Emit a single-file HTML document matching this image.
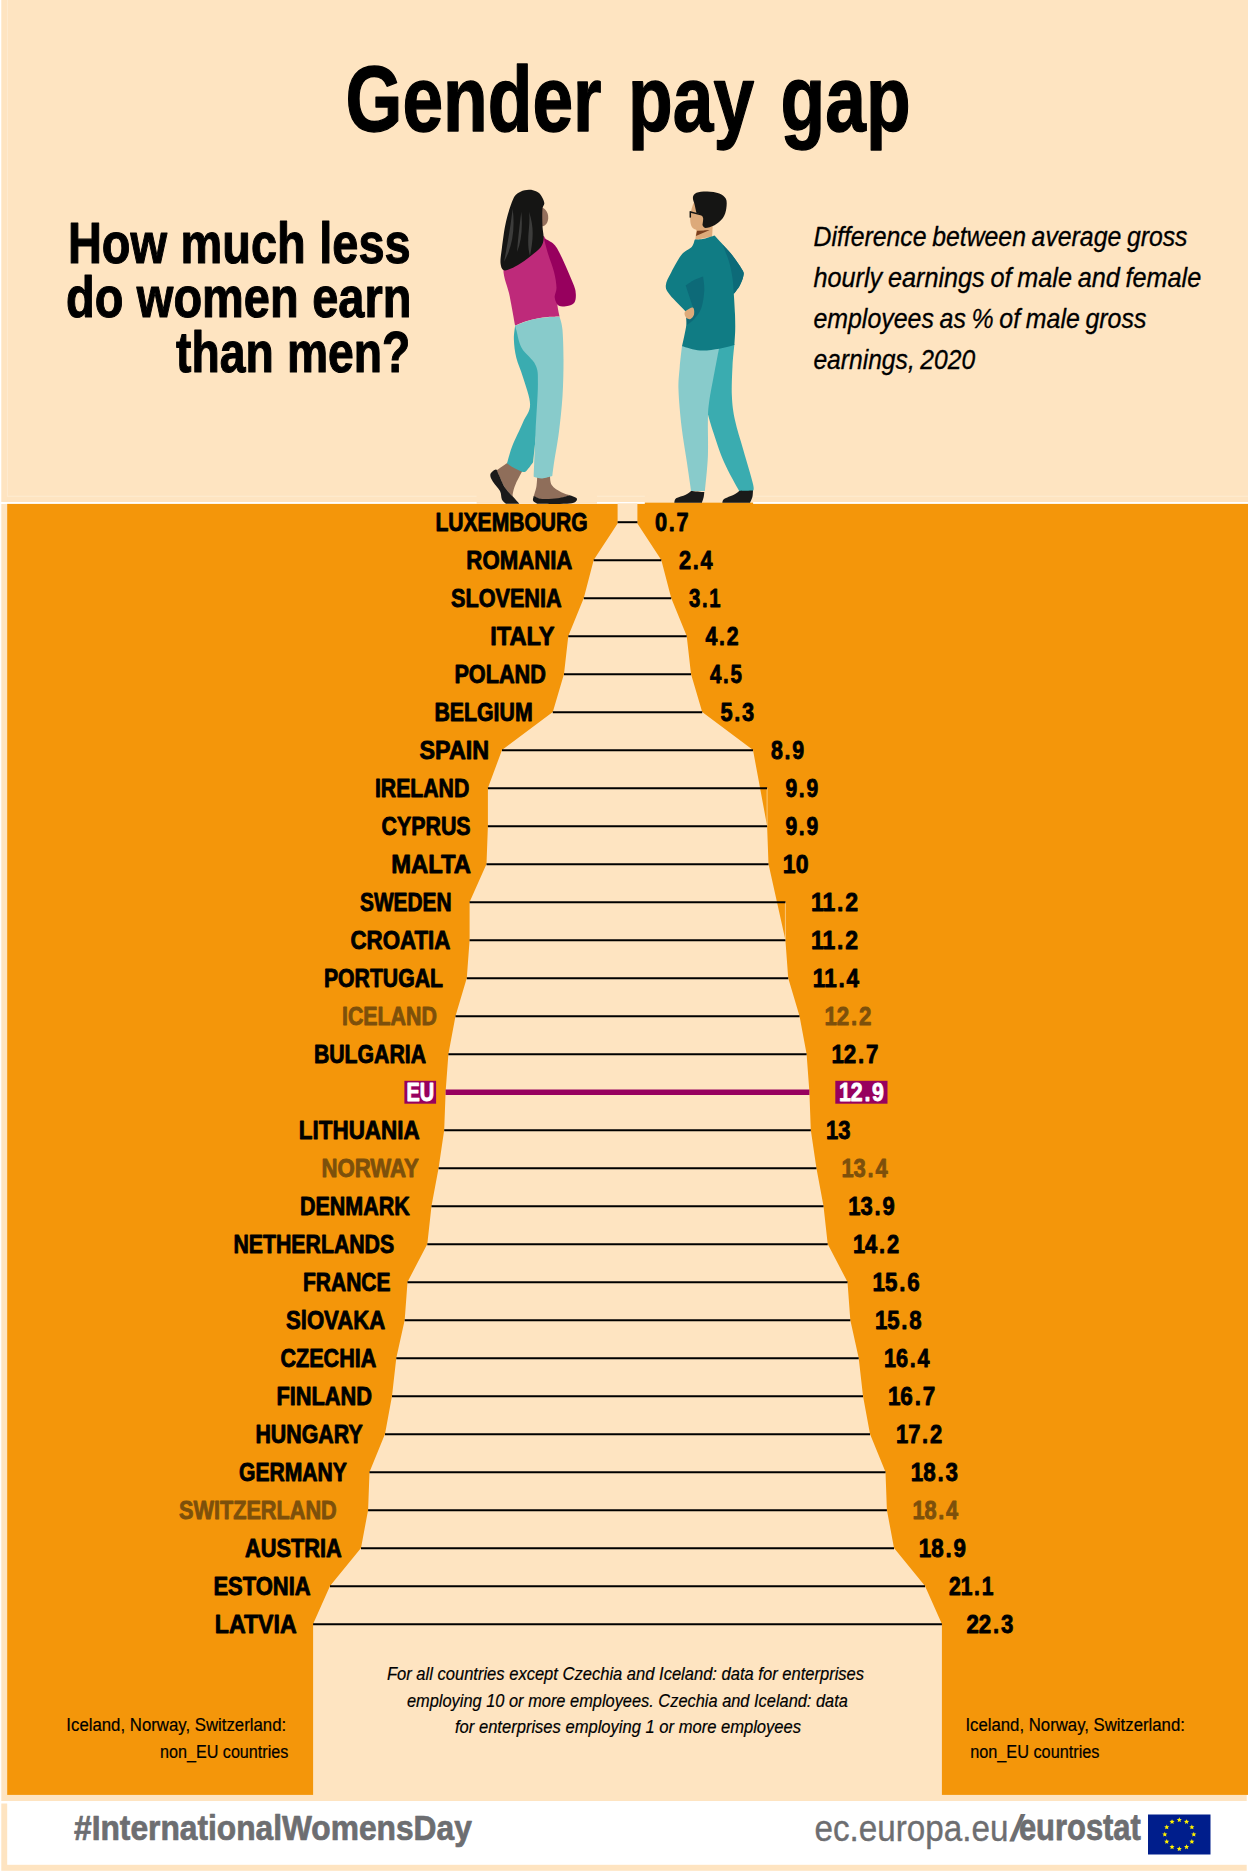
<!DOCTYPE html>
<html lang="en"><head><meta charset="utf-8"><title>Gender pay gap</title>
<style>html,body{margin:0;padding:0;background:#fff}svg{display:block}text{font-family:"Liberation Sans",Arial,sans-serif;white-space:pre}</style></head><body>
<svg width="1248" height="1872" viewBox="0 0 1248 1872">
<rect x="0" y="0" width="1248" height="1872" fill="#fff"/>
<rect x="1.3" y="0" width="1246.7" height="502" fill="#FEE4C1"/>
<rect x="7" y="495.7" width="1241" height="1.2" fill="#FEEACF"/>
<rect x="6.9" y="0" width="1.1" height="496.9" fill="#FEEACF"/>
<rect x="1.3" y="504" width="1245.4" height="1297" fill="#FEE4C1"/>
<rect x="7.2" y="503.9" width="1240.8" height="1291" fill="#F4960A"/>
<rect x="1.3" y="1803.5" width="1245.4" height="67.3" fill="#FEE4C1"/>
<rect x="7.2" y="1803" width="1240.8" height="61.8" fill="#fff"/>
<polygon points="637.4,503.5 637.4,523.5 661.3,560.0 671.2,598.0 686.7,636.0 691.0,674.0 702.2,712.0 753.0,750.0 767.1,826.0 768.5,864.0 785.4,940.0 788.2,978.0 799.5,1016.0 806.6,1054.0 809.4,1092.0 810.8,1130.0 816.4,1168.0 823.5,1206.0 827.7,1244.0 847.5,1282.0 850.3,1320.0 858.7,1358.0 863.0,1396.0 870.0,1434.0 885.5,1472.0 886.9,1510.0 894.0,1548.0 925.0,1586.0 941.9,1624.0 941.9,1795.0 313.1,1795.0 313.1,1624.0 330.0,1586.0 361.0,1548.0 368.1,1510.0 369.5,1472.0 385.0,1434.0 392.0,1396.0 396.3,1358.0 404.7,1320.0 407.5,1282.0 427.3,1244.0 431.5,1206.0 438.6,1168.0 444.2,1130.0 445.6,1092.0 448.4,1054.0 455.5,1016.0 466.8,978.0 469.6,940.0 469.6,902.0 486.5,864.0 487.9,826.0 487.9,788.0 502.0,750.0 552.8,712.0 564.0,674.0 568.3,636.0 583.8,598.0 593.7,560.0 617.6,523.5 617.6,503.5" fill="#FEE4C1"/>
<line x1="767.1" y1="788.0" x2="767.1" y2="826.0" stroke="#FEE4C1" stroke-width="0.6"/>
<line x1="785.4" y1="902.0" x2="785.4" y2="940.0" stroke="#FEE4C1" stroke-width="0.6"/>
<line x1="617.6" y1="522.2" x2="637.4" y2="522.2" stroke="#000" stroke-width="2"/>
<line x1="593.7" y1="560.2" x2="661.3" y2="560.2" stroke="#000" stroke-width="2"/>
<line x1="583.8" y1="598.2" x2="671.2" y2="598.2" stroke="#000" stroke-width="2"/>
<line x1="568.3" y1="636.2" x2="686.7" y2="636.2" stroke="#000" stroke-width="2"/>
<line x1="564.0" y1="674.2" x2="691.0" y2="674.2" stroke="#000" stroke-width="2"/>
<line x1="552.8" y1="712.2" x2="702.2" y2="712.2" stroke="#000" stroke-width="2"/>
<line x1="502.0" y1="750.2" x2="753.0" y2="750.2" stroke="#000" stroke-width="2"/>
<line x1="487.9" y1="788.2" x2="767.1" y2="788.2" stroke="#000" stroke-width="2"/>
<line x1="487.9" y1="826.2" x2="767.1" y2="826.2" stroke="#000" stroke-width="2"/>
<line x1="486.5" y1="864.2" x2="768.5" y2="864.2" stroke="#000" stroke-width="2"/>
<line x1="469.6" y1="902.2" x2="785.4" y2="902.2" stroke="#000" stroke-width="2"/>
<line x1="469.6" y1="940.2" x2="785.4" y2="940.2" stroke="#000" stroke-width="2"/>
<line x1="466.8" y1="978.2" x2="788.2" y2="978.2" stroke="#000" stroke-width="2"/>
<line x1="455.5" y1="1016.2" x2="799.5" y2="1016.2" stroke="#000" stroke-width="2"/>
<line x1="448.4" y1="1054.2" x2="806.6" y2="1054.2" stroke="#000" stroke-width="2"/>
<line x1="445.6" y1="1092.3" x2="809.4" y2="1092.3" stroke="#97005E" stroke-width="5.5"/>
<line x1="444.2" y1="1130.2" x2="810.8" y2="1130.2" stroke="#000" stroke-width="2"/>
<line x1="438.6" y1="1168.2" x2="816.4" y2="1168.2" stroke="#000" stroke-width="2"/>
<line x1="431.5" y1="1206.2" x2="823.5" y2="1206.2" stroke="#000" stroke-width="2"/>
<line x1="427.3" y1="1244.2" x2="827.7" y2="1244.2" stroke="#000" stroke-width="2"/>
<line x1="407.5" y1="1282.2" x2="847.5" y2="1282.2" stroke="#000" stroke-width="2"/>
<line x1="404.7" y1="1320.2" x2="850.3" y2="1320.2" stroke="#000" stroke-width="2"/>
<line x1="396.3" y1="1358.2" x2="858.7" y2="1358.2" stroke="#000" stroke-width="2"/>
<line x1="392.0" y1="1396.2" x2="863.0" y2="1396.2" stroke="#000" stroke-width="2"/>
<line x1="385.0" y1="1434.2" x2="870.0" y2="1434.2" stroke="#000" stroke-width="2"/>
<line x1="369.5" y1="1472.2" x2="885.5" y2="1472.2" stroke="#000" stroke-width="2"/>
<line x1="368.1" y1="1510.2" x2="886.9" y2="1510.2" stroke="#000" stroke-width="2"/>
<line x1="361.0" y1="1548.2" x2="894.0" y2="1548.2" stroke="#000" stroke-width="2"/>
<line x1="330.0" y1="1586.2" x2="925.0" y2="1586.2" stroke="#000" stroke-width="2"/>
<line x1="313.1" y1="1624.2" x2="941.9" y2="1624.2" stroke="#000" stroke-width="2"/>
<rect x="404.4" y="1080.8" width="31.7" height="22.9" fill="#97005E"/>
<rect x="835.3" y="1080.8" width="52.2" height="22.9" fill="#97005E"/>
<rect x="476.6" y="495" width="120.4" height="8.8" fill="#FEE4C1"/>
<rect x="644.8" y="495" width="108.3" height="7.6" fill="#FEE4C1"/>
<rect x="644.8" y="502.6" width="108.3" height="2" fill="#F4960A"/>
<g>
<path d="M541,207 C546,208.5 548.6,213.5 548.2,218.5 C547.8,223 545.5,226.3 541.5,226.6 Z" fill="#94705C"/>
<path d="M503.7,266.0C502.0,275.4 507.8,286.3 509.7,296.2C511.6,306.1 514.2,320.7 515.1,325.6C516.9,324.9 522.3,322.5 526.0,321.3C529.7,320.1 533.6,319.1 537.3,318.4C541.0,317.7 544.3,317.3 548.0,317.0C551.7,316.7 557.7,316.7 559.6,316.6C559.2,314.8 557.8,309.0 557.5,305.8C557.2,302.6 557.6,300.9 558.0,297.4C558.4,293.9 560.3,290.9 560.0,285.0C559.7,279.1 557.8,268.7 556.0,262.0C554.2,255.3 551.0,249.3 549.0,245.0C547.0,240.7 544.8,237.5 543.9,236.0C539.9,236.7 524.0,239.3 520.0,240.0C517.3,244.3 505.4,256.6 503.7,266.0Z" fill="#BE2A7A"/>
<path d="M543.9,238.3C545.6,239.3 551.2,241.5 554.1,244.5C557.0,247.5 558.1,249.9 561.3,256.5C564.5,263.1 571.0,278.0 573.4,284.2C575.8,290.4 575.6,290.8 575.8,293.8C576.0,296.8 575.8,300.2 574.6,302.2C573.4,304.2 571.2,305.2 568.6,305.8C566.0,306.4 561.2,307.2 558.9,305.8C556.6,304.4 555.1,300.4 554.7,297.4C554.3,294.4 556.6,292.0 556.5,287.8C556.4,283.6 555.5,277.8 554.1,272.2C552.7,266.6 549.8,259.8 548.1,254.1C546.4,248.4 544.6,240.9 543.9,238.3Z" fill="#97005E"/>
<path d="M528.9,189.8C531.5,189.7 534.0,190.4 536.0,191.3C538.0,192.2 539.5,193.2 540.9,195.2C542.3,197.1 544.0,200.6 544.3,203.0C544.5,205.4 542.7,205.8 542.4,209.7C542.1,213.6 542.3,221.7 542.5,226.5C542.7,231.3 543.9,235.1 543.6,238.5C543.3,241.9 543.1,243.9 540.9,246.9C538.6,249.9 533.9,253.5 530.1,256.5C526.3,259.5 522.2,262.7 518.0,265.0C513.8,267.3 507.8,270.6 504.9,270.4C502.0,270.2 501.1,267.5 500.6,263.8C500.1,260.1 501.0,255.1 501.9,248.1C502.8,241.1 504.1,229.9 506.0,221.7C507.9,213.5 510.9,203.8 513.3,198.8C515.7,193.8 517.9,193.3 520.5,191.8C523.1,190.3 526.3,189.9 528.9,189.8Z" fill="#151514"/>
<path d="M512.7,208.8 Q509.5,235 504,261.7 Q516.5,240 512.7,208.8Z M521.3,211.7 Q518.3,235 517,252.1 Q523.5,236 521.3,211.7Z M529,211.7 C531,225 525.5,240 530,256 C533,240 534.5,228 529,211.7Z" fill="#3C3C3B"/>
<path d="M496.5,470.5C498.5,469.1 506.5,463.4 508.5,462.0C511.1,463.0 521.4,467.0 524.0,468.0C522.6,470.6 517.6,479.6 515.7,483.9C513.8,488.2 513.1,491.8 512.7,494.0C512.3,496.2 513.2,496.6 513.3,497.1C511.9,495.5 507.4,491.5 504.9,487.5C502.3,483.5 499.4,475.8 498.0,473.0C496.6,470.2 496.8,470.9 496.5,470.5Z" fill="#8F6E5A"/>
<path d="M537.3,474.0C539.4,474.0 547.8,474.0 549.9,474.0C550.2,475.9 549.8,482.1 551.7,485.1C553.6,488.2 558.3,490.6 561.3,492.3C564.3,494.0 568.4,494.8 569.8,495.3C567.8,495.9 562.3,498.3 557.7,499.0C553.1,499.7 546.1,499.9 542.1,499.4C538.1,498.9 535.1,496.7 533.7,496.2C534.2,494.5 535.9,489.7 536.5,486.0C537.1,482.3 537.2,476.0 537.3,474.0Z" fill="#8F6E5A"/>
<path d="M515.1,325.8C514.9,328.1 513.7,334.4 513.9,339.7C514.1,345.0 514.8,351.5 516.3,357.7C517.8,363.9 520.6,369.1 522.9,376.9C525.2,384.7 530.1,397.0 530.1,404.6C530.1,412.2 525.9,415.6 522.9,422.6C519.9,429.6 514.8,439.8 512.1,446.6C509.5,453.4 507.9,460.7 507.0,463.5C508.3,464.3 512.4,467.1 515.0,468.5C517.6,469.9 521.0,471.5 522.9,471.9C524.8,472.3 524.8,472.3 526.5,470.7C528.2,469.1 532.0,463.7 533.1,462.3C534.2,451.9 538.9,410.4 540.0,400.0C540.0,391.7 540.0,358.3 540.0,350.0C538.3,345.8 531.7,329.2 530.0,325.0C527.5,325.1 517.6,325.7 515.1,325.8Z" fill="#3AACB0"/>
<path d="M515.1,325.8C516.9,325.1 522.3,322.7 526.0,321.5C529.7,320.3 533.6,319.3 537.3,318.6C541.0,317.9 544.3,317.5 548.0,317.2C551.7,316.9 557.7,316.9 559.6,316.8C560.1,319.0 561.9,322.8 562.5,330.0C563.1,337.2 563.5,349.1 563.5,360.1C563.5,371.1 563.3,384.2 562.5,396.2C561.7,408.2 560.3,421.2 558.9,432.2C557.5,443.2 555.2,455.0 554.1,462.3C553.0,469.6 552.6,473.8 552.3,476.1C550.6,476.5 545.2,478.4 542.1,478.5C539.0,478.6 535.1,477.0 533.7,476.7C534.0,469.3 534.8,447.6 535.5,432.2C536.2,416.8 537.9,395.3 537.9,384.1C537.9,372.9 538.2,370.9 535.5,364.9C532.8,358.9 524.9,353.9 521.7,348.1C518.5,342.3 517.4,333.7 516.3,330.0C515.2,326.3 515.3,326.5 515.1,325.8Z" fill="#88CBCB"/>
<path d="M495.8,469.5C494.4,469.6 490.9,472.3 490.4,474.3C489.9,476.3 491.2,478.7 492.8,481.5C494.4,484.3 498.5,488.1 500.0,491.1C501.5,494.1 500.9,497.4 501.9,499.5C502.9,501.6 505.4,503.1 506.1,503.8C508.3,503.8 517.1,503.8 519.3,503.8C518.3,502.7 515.7,499.8 513.3,497.1C510.9,494.4 507.4,491.4 504.9,487.5C502.4,483.6 500.0,477.0 498.5,474.0C497.0,471.0 497.2,469.4 495.8,469.5Z" fill="#1A1A1A"/>
<path d="M533.7,495.9C533.6,496.7 532.5,499.4 533.1,500.7C533.7,502.0 536.6,503.3 537.3,503.8C542.7,503.8 563.2,504.3 569.8,503.5C576.4,502.7 577.0,500.3 577.0,498.9C577.0,497.5 571.0,495.9 569.8,495.3C567.8,495.8 562.3,497.7 557.7,498.3C553.1,498.9 546.1,499.3 542.1,498.9C538.1,498.5 535.1,496.4 533.7,495.9Z" fill="#1A1A1A"/>
</g>
<g>
<path d="M696.5,229 L712.7,226 L712.1,236.5 L695.3,240 Z" fill="#DDAA7A"/>
<path d="M697.1,230.7 L709.7,230.1 L695.9,235.9 Z" fill="#7A3F1E"/>
<path d="M696.0,199.0C694.6,199.9 692.7,205.3 691.7,208.5C690.7,211.7 690.3,215.3 690.2,218.1C690.1,220.9 690.5,223.5 691.1,225.3C691.8,227.1 692.6,228.1 694.1,228.9C695.6,229.7 698.1,230.1 700.0,230.3C701.9,230.5 704.6,230.1 705.5,230.1C705.9,227.6 707.6,217.5 708.0,215.0C706.7,213.0 701.3,205.0 700.0,203.0C699.3,202.3 697.4,198.1 696.0,199.0Z" fill="#DDAA7A"/>
<path d="M692.9,197.6C693.2,195.6 694.1,193.8 696.5,192.8C698.9,191.8 703.5,191.3 707.3,191.4C711.1,191.5 716.2,192.2 719.3,193.4C722.4,194.6 724.7,196.3 725.9,198.8C727.1,201.3 726.8,205.3 726.3,208.5C725.8,211.7 724.9,215.3 722.9,218.1C720.9,220.9 717.4,223.7 714.5,225.3C711.6,226.9 707.5,227.9 705.5,227.9C703.5,227.9 703.0,225.7 702.5,225.3C702.6,224.1 703.4,219.9 703.1,218.1C702.8,216.3 701.8,215.3 700.7,214.5C699.6,213.7 697.2,213.5 696.5,213.3C696.2,211.9 695.3,207.5 694.7,204.9C694.1,202.3 692.6,199.6 692.9,197.6Z" fill="#151514"/>
<path d="M690.3,211.2 V217.6" stroke="#151514" stroke-width="1.5" fill="none"/><path d="M690.6,212 L702.5,215.2" stroke="#151514" stroke-width="1.3" fill="none"/>
<path d="M719.3,347.0C721.8,346.5 731.9,344.5 734.4,344.0C734.1,347.7 732.9,357.4 732.5,366.1C732.1,374.8 731.5,387.2 731.9,396.2C732.3,405.2 733.1,411.2 735.0,420.2C736.9,429.2 740.4,439.6 743.4,450.2C746.4,460.8 751.4,477.1 753.0,483.9C754.6,490.7 753.0,489.9 753.0,491.1C750.7,491.1 741.5,491.1 739.2,491.1C736.7,486.3 728.4,472.1 724.1,462.3C719.8,452.5 716.0,440.2 713.3,432.2C710.6,424.2 708.8,417.2 707.9,414.2C707.4,408.5 705.5,385.7 705.0,380.0C705.0,374.5 705.0,352.5 705.0,347.0C707.4,347.0 716.9,347.0 719.3,347.0Z" fill="#3AACB0"/>
<path d="M682.1,345.0C681.7,348.7 680.3,359.8 679.7,367.3C679.1,374.8 678.2,380.3 678.5,390.1C678.8,399.9 680.1,414.2 681.5,426.2C682.9,438.2 685.3,451.5 686.9,462.3C688.5,473.1 690.4,486.3 691.1,491.1C693.4,491.1 702.6,491.1 704.9,491.1C705.4,485.3 707.4,468.1 707.9,456.3C708.4,444.5 707.7,429.2 707.9,420.2C708.1,411.2 708.0,410.2 709.1,402.2C710.2,394.2 712.8,381.3 714.5,372.1C716.2,362.9 718.5,351.2 719.3,347.0C713.1,346.7 688.3,345.3 682.1,345.0Z" fill="#88CBCB"/>
<path d="M694.7,239.7C696.2,239.5 700.7,239.5 704.0,238.8C707.3,238.1 712.8,236.1 714.5,235.5C715.7,236.8 718.9,240.2 721.7,243.3C724.5,246.4 727.9,249.7 731.3,254.1C734.7,258.5 740.2,266.2 742.2,269.8C744.2,273.4 743.8,273.2 743.4,275.8C743.0,278.4 741.4,282.4 739.8,285.4C738.2,288.4 734.8,292.4 733.8,293.8C734.0,297.2 734.8,308.2 735.0,314.2C735.2,320.2 735.3,324.9 735.2,330.0C735.1,335.1 734.5,342.6 734.4,345.1C731.9,345.7 725.0,347.8 719.3,348.7C713.6,349.6 706.3,350.9 700.1,350.5C693.9,350.1 685.1,347.0 682.1,346.3C682.8,342.8 685.6,330.7 686.3,325.0C687.0,319.3 686.3,314.2 686.3,312.0C683.6,309.2 673.4,299.4 670.0,295.0C666.6,290.6 665.6,289.2 665.8,285.4C666.0,281.6 668.6,277.4 671.3,272.2C674.0,267.0 678.7,258.3 682.1,254.1C685.5,249.9 689.6,249.3 691.7,246.9C693.8,244.5 694.2,240.9 694.7,239.7Z" fill="#107C84"/>
<path d="M722.5,244.5C724.0,246.1 728.0,249.9 731.3,254.1C734.6,258.3 740.2,266.2 742.2,269.8C744.2,273.4 743.8,273.2 743.4,275.8C743.0,278.4 741.4,282.4 739.8,285.4C738.2,288.4 734.8,292.4 733.8,293.8C733.6,291.2 733.3,283.6 732.5,278.2C731.7,272.8 730.6,266.9 728.9,261.3C727.2,255.7 723.6,247.3 722.5,244.5Z" fill="#0D6A78"/>
<path d="M685.7,285.4C687.1,284.5 691.1,281.5 694.0,280.0C696.9,278.5 701.6,277.0 703.1,276.4C703.3,278.7 704.6,284.9 704.3,290.2C704.0,295.5 703.0,303.4 701.3,308.2C699.6,313.0 696.5,316.2 694.1,319.0C691.7,321.8 688.1,324.0 686.9,325.0C686.8,323.8 686.4,319.2 686.3,318.0C687.6,317.2 693.0,314.8 694.1,313.0C695.2,311.2 693.1,308.0 692.9,307.0C691.7,303.4 686.9,289.0 685.7,285.4Z" fill="#0D6A78"/>
<path d="M686.3,310.6C687.7,309.6 691.6,307.0 692.9,307.6C694.2,308.2 694.5,312.3 694.1,314.2C693.7,316.1 691.8,318.4 690.5,319.0C689.2,319.6 687.3,318.7 686.3,317.8C685.3,316.9 684.5,314.8 684.5,313.6C684.5,312.4 684.9,311.6 686.3,310.6Z" fill="#DDAA7A"/>
<path d="M691.1,490.9C693.3,491.1 702.1,491.9 704.3,492.1C704.2,492.9 704.1,495.3 703.7,497.1C703.3,498.9 702.2,501.8 701.9,502.7C697.3,502.7 678.9,502.7 674.3,502.7C674.6,502.0 674.2,499.6 676.1,498.3C678.0,497.0 683.2,495.9 685.7,494.7C688.2,493.5 690.2,491.5 691.1,490.9Z" fill="#1A1A1A"/>
<path d="M739.2,490.9C741.5,490.8 750.7,490.6 753.0,490.5C752.9,491.6 752.9,495.1 752.4,497.1C751.9,499.1 750.4,501.8 750.0,502.7C745.4,502.7 726.9,502.7 722.3,502.7C722.6,502.1 722.2,500.2 724.1,498.9C726.0,497.6 731.3,496.0 733.8,494.7C736.3,493.4 738.3,491.5 739.2,490.9Z" fill="#1A1A1A"/>
</g>
<rect x="1148" y="1814.5" width="62.5" height="40" fill="#001E8C"/>
<polygon points="1179.30,1817.20 1180.03,1818.89 1181.87,1819.07 1180.49,1820.29 1180.89,1822.08 1179.30,1821.15 1177.71,1822.08 1178.11,1820.29 1176.73,1819.07 1178.57,1818.89" fill="#FFF200"/>
<polygon points="1186.55,1819.14 1187.28,1820.83 1189.12,1821.01 1187.74,1822.23 1188.14,1824.03 1186.55,1823.09 1184.96,1824.03 1185.36,1822.23 1183.98,1821.01 1185.82,1820.83" fill="#FFF200"/>
<polygon points="1191.86,1824.45 1192.59,1826.14 1194.43,1826.32 1193.05,1827.54 1193.44,1829.33 1191.86,1828.40 1190.27,1829.33 1190.67,1827.54 1189.29,1826.32 1191.12,1826.14" fill="#FFF200"/>
<polygon points="1193.80,1831.70 1194.53,1833.39 1196.37,1833.57 1194.99,1834.79 1195.39,1836.58 1193.80,1835.65 1192.21,1836.58 1192.61,1834.79 1191.23,1833.57 1193.07,1833.39" fill="#FFF200"/>
<polygon points="1191.86,1838.95 1192.59,1840.64 1194.43,1840.82 1193.05,1842.04 1193.44,1843.83 1191.86,1842.90 1190.27,1843.83 1190.67,1842.04 1189.29,1840.82 1191.12,1840.64" fill="#FFF200"/>
<polygon points="1186.55,1844.26 1187.28,1845.95 1189.12,1846.12 1187.74,1847.34 1188.14,1849.14 1186.55,1848.21 1184.96,1849.14 1185.36,1847.34 1183.98,1846.12 1185.82,1845.95" fill="#FFF200"/>
<polygon points="1179.30,1846.20 1180.03,1847.89 1181.87,1848.07 1180.49,1849.29 1180.89,1851.08 1179.30,1850.15 1177.71,1851.08 1178.11,1849.29 1176.73,1848.07 1178.57,1847.89" fill="#FFF200"/>
<polygon points="1172.05,1844.26 1172.78,1845.95 1174.62,1846.12 1173.24,1847.34 1173.64,1849.14 1172.05,1848.21 1170.46,1849.14 1170.86,1847.34 1169.48,1846.12 1171.32,1845.95" fill="#FFF200"/>
<polygon points="1166.74,1838.95 1167.48,1840.64 1169.31,1840.82 1167.93,1842.04 1168.33,1843.83 1166.74,1842.90 1165.16,1843.83 1165.55,1842.04 1164.17,1840.82 1166.01,1840.64" fill="#FFF200"/>
<polygon points="1164.80,1831.70 1165.53,1833.39 1167.37,1833.57 1165.99,1834.79 1166.39,1836.58 1164.80,1835.65 1163.21,1836.58 1163.61,1834.79 1162.23,1833.57 1164.07,1833.39" fill="#FFF200"/>
<polygon points="1166.74,1824.45 1167.48,1826.14 1169.31,1826.32 1167.93,1827.54 1168.33,1829.33 1166.74,1828.40 1165.16,1829.33 1165.55,1827.54 1164.17,1826.32 1166.01,1826.14" fill="#FFF200"/>
<polygon points="1172.05,1819.14 1172.78,1820.83 1174.62,1821.01 1173.24,1822.23 1173.64,1824.03 1172.05,1823.09 1170.46,1824.03 1170.86,1822.23 1169.48,1821.01 1171.32,1820.83" fill="#FFF200"/>
<text transform="matrix(0.7949 0 0 1 345.52 131.20)" font-size="92" fill="#000" stroke="#000" stroke-width="1.2" stroke-linejoin="round" vector-effect="non-scaling-stroke" word-spacing="7.82" font-weight="bold">Gender pay gap</text>
<text transform="matrix(0.8238 0 0 1 67.93 262.70)" font-size="57" fill="#000" stroke="#000" stroke-width="1.0" stroke-linejoin="round" vector-effect="non-scaling-stroke" word-spacing="0.57" font-weight="bold">How much less</text>
<text transform="matrix(0.8241 0 0 1 65.96 317.20)" font-size="57" fill="#000" stroke="#000" stroke-width="1.0" stroke-linejoin="round" vector-effect="non-scaling-stroke" word-spacing="0.57" font-weight="bold">do women earn</text>
<text transform="matrix(0.8119 0 0 1 176.00 371.90)" font-size="57" fill="#000" stroke="#000" stroke-width="1.0" stroke-linejoin="round" vector-effect="non-scaling-stroke" word-spacing="0.57" font-weight="bold">than men?</text>
<text transform="matrix(0.8864 0 0 1 813.51 246.30)" font-size="28" fill="#000" stroke="#000" stroke-width="0.3" stroke-linejoin="round" vector-effect="non-scaling-stroke" word-spacing="-1.40" font-style="italic">Difference between average gross</text>
<text transform="matrix(0.9014 0 0 1 813.51 287.00)" font-size="28" fill="#000" stroke="#000" stroke-width="0.3" stroke-linejoin="round" vector-effect="non-scaling-stroke" word-spacing="-1.40" font-style="italic">hourly earnings of male and female</text>
<text transform="matrix(0.8897 0 0 1 813.40 328.10)" font-size="28" fill="#000" stroke="#000" stroke-width="0.3" stroke-linejoin="round" vector-effect="non-scaling-stroke" word-spacing="-1.40" font-style="italic">employees as % of male gross</text>
<text transform="matrix(0.8800 0 0 1 813.41 368.50)" font-size="28" fill="#000" stroke="#000" stroke-width="0.3" stroke-linejoin="round" vector-effect="non-scaling-stroke" word-spacing="-1.40" font-style="italic">earnings, 2020</text>
<text transform="matrix(0.8436 0 0 1 435.46 531.20)" font-size="25" fill="#000" stroke="#000" stroke-width="0.8" stroke-linejoin="round" vector-effect="non-scaling-stroke" font-weight="bold">LUXEMBOURG</text>
<text transform="matrix(0.8694 0 0 1 654.97 531.20)" font-size="25" fill="#000" stroke="#000" stroke-width="0.8" stroke-linejoin="round" vector-effect="non-scaling-stroke" font-weight="bold">0<tspan dx="2">.</tspan><tspan dx="2">7</tspan></text>
<text transform="matrix(0.8886 0 0 1 466.35 569.20)" font-size="25" fill="#000" stroke="#000" stroke-width="0.8" stroke-linejoin="round" vector-effect="non-scaling-stroke" font-weight="bold">ROMANIA</text>
<text transform="matrix(0.8684 0 0 1 678.94 569.20)" font-size="25" fill="#000" stroke="#000" stroke-width="0.8" stroke-linejoin="round" vector-effect="non-scaling-stroke" font-weight="bold">2<tspan dx="2">.</tspan><tspan dx="2">4</tspan></text>
<text transform="matrix(0.8666 0 0 1 450.97 607.20)" font-size="25" fill="#000" stroke="#000" stroke-width="0.8" stroke-linejoin="round" vector-effect="non-scaling-stroke" font-weight="bold">SLOVENIA</text>
<text transform="matrix(0.8110 0 0 1 688.99 607.20)" font-size="25" fill="#000" stroke="#000" stroke-width="0.8" stroke-linejoin="round" vector-effect="non-scaling-stroke" font-weight="bold">3<tspan dx="2">.</tspan><tspan dx="2">1</tspan></text>
<text transform="matrix(0.9452 0 0 1 490.26 645.20)" font-size="25" fill="#000" stroke="#000" stroke-width="0.8" stroke-linejoin="round" vector-effect="non-scaling-stroke" font-weight="bold">ITALY</text>
<text transform="matrix(0.8524 0 0 1 705.51 645.20)" font-size="25" fill="#000" stroke="#000" stroke-width="0.8" stroke-linejoin="round" vector-effect="non-scaling-stroke" font-weight="bold">4<tspan dx="2">.</tspan><tspan dx="2">2</tspan></text>
<text transform="matrix(0.8675 0 0 1 454.39 683.20)" font-size="25" fill="#000" stroke="#000" stroke-width="0.8" stroke-linejoin="round" vector-effect="non-scaling-stroke" font-weight="bold">POLAND</text>
<text transform="matrix(0.8218 0 0 1 710.00 683.20)" font-size="25" fill="#000" stroke="#000" stroke-width="0.8" stroke-linejoin="round" vector-effect="non-scaling-stroke" font-weight="bold">4<tspan dx="2">.</tspan><tspan dx="2">5</tspan></text>
<text transform="matrix(0.8534 0 0 1 434.41 721.20)" font-size="25" fill="#000" stroke="#000" stroke-width="0.8" stroke-linejoin="round" vector-effect="non-scaling-stroke" font-weight="bold">BELGIUM</text>
<text transform="matrix(0.8702 0 0 1 720.44 721.20)" font-size="25" fill="#000" stroke="#000" stroke-width="0.8" stroke-linejoin="round" vector-effect="non-scaling-stroke" font-weight="bold">5<tspan dx="2">.</tspan><tspan dx="2">3</tspan></text>
<text transform="matrix(0.9335 0 0 1 419.52 759.20)" font-size="25" fill="#000" stroke="#000" stroke-width="0.8" stroke-linejoin="round" vector-effect="non-scaling-stroke" font-weight="bold">SPAIN</text>
<text transform="matrix(0.8537 0 0 1 770.95 759.20)" font-size="25" fill="#000" stroke="#000" stroke-width="0.8" stroke-linejoin="round" vector-effect="non-scaling-stroke" font-weight="bold">8<tspan dx="2">.</tspan><tspan dx="2">9</tspan></text>
<text transform="matrix(0.8498 0 0 1 374.92 797.20)" font-size="25" fill="#000" stroke="#000" stroke-width="0.8" stroke-linejoin="round" vector-effect="non-scaling-stroke" font-weight="bold">IRELAND</text>
<text transform="matrix(0.8433 0 0 1 785.47 797.20)" font-size="25" fill="#000" stroke="#000" stroke-width="0.8" stroke-linejoin="round" vector-effect="non-scaling-stroke" font-weight="bold">9<tspan dx="2">.</tspan><tspan dx="2">9</tspan></text>
<text transform="matrix(0.8560 0 0 1 381.50 835.20)" font-size="25" fill="#000" stroke="#000" stroke-width="0.8" stroke-linejoin="round" vector-effect="non-scaling-stroke" font-weight="bold">CYPRUS</text>
<text transform="matrix(0.8433 0 0 1 785.47 835.20)" font-size="25" fill="#000" stroke="#000" stroke-width="0.8" stroke-linejoin="round" vector-effect="non-scaling-stroke" font-weight="bold">9<tspan dx="2">.</tspan><tspan dx="2">9</tspan></text>
<text transform="matrix(0.9528 0 0 1 391.29 873.20)" font-size="25" fill="#000" stroke="#000" stroke-width="0.8" stroke-linejoin="round" vector-effect="non-scaling-stroke" font-weight="bold">MALTA</text>
<text transform="matrix(0.9224 0 0 1 782.85 873.20)" font-size="25" fill="#000" stroke="#000" stroke-width="0.8" stroke-linejoin="round" vector-effect="non-scaling-stroke" font-weight="bold">10</text>
<text transform="matrix(0.8354 0 0 1 359.97 911.20)" font-size="25" fill="#000" stroke="#000" stroke-width="0.8" stroke-linejoin="round" vector-effect="non-scaling-stroke" font-weight="bold">SWEDEN</text>
<text transform="matrix(0.9202 0 0 1 810.93 911.20)" font-size="25" fill="#000" stroke="#000" stroke-width="0.8" stroke-linejoin="round" vector-effect="non-scaling-stroke" font-weight="bold">11<tspan dx="2">.</tspan><tspan dx="2">2</tspan></text>
<text transform="matrix(0.8936 0 0 1 350.42 949.20)" font-size="25" fill="#000" stroke="#000" stroke-width="0.8" stroke-linejoin="round" vector-effect="non-scaling-stroke" font-weight="bold">CROATIA</text>
<text transform="matrix(0.9202 0 0 1 810.93 949.20)" font-size="25" fill="#000" stroke="#000" stroke-width="0.8" stroke-linejoin="round" vector-effect="non-scaling-stroke" font-weight="bold">11<tspan dx="2">.</tspan><tspan dx="2">2</tspan></text>
<text transform="matrix(0.8490 0 0 1 323.96 987.20)" font-size="25" fill="#000" stroke="#000" stroke-width="0.8" stroke-linejoin="round" vector-effect="non-scaling-stroke" font-weight="bold">PORTUGAL</text>
<text transform="matrix(0.9002 0 0 1 812.87 987.20)" font-size="25" fill="#000" stroke="#000" stroke-width="0.8" stroke-linejoin="round" vector-effect="non-scaling-stroke" font-weight="bold">11<tspan dx="2">.</tspan><tspan dx="2">4</tspan></text>
<text transform="matrix(0.8546 0 0 1 341.96 1025.20)" font-size="25" fill="#7D500B" stroke="#7D500B" stroke-width="0.8" stroke-linejoin="round" vector-effect="non-scaling-stroke" font-weight="bold">ICELAND</text>
<text transform="matrix(0.8938 0 0 1 824.41 1025.20)" font-size="25" fill="#7D500B" stroke="#7D500B" stroke-width="0.8" stroke-linejoin="round" vector-effect="non-scaling-stroke" font-weight="bold">12<tspan dx="2">.</tspan><tspan dx="2">2</tspan></text>
<text transform="matrix(0.8493 0 0 1 313.95 1063.20)" font-size="25" fill="#000" stroke="#000" stroke-width="0.8" stroke-linejoin="round" vector-effect="non-scaling-stroke" font-weight="bold">BULGARIA</text>
<text transform="matrix(0.8942 0 0 1 831.43 1063.20)" font-size="25" fill="#000" stroke="#000" stroke-width="0.8" stroke-linejoin="round" vector-effect="non-scaling-stroke" font-weight="bold">12<tspan dx="2">.</tspan><tspan dx="2">7</tspan></text>
<text transform="matrix(0.8000 0 0 1 406.50 1101.20)" font-size="25" fill="#fff" stroke="#fff" stroke-width="0.8" stroke-linejoin="round" vector-effect="non-scaling-stroke" font-weight="bold">EU</text>
<text transform="matrix(0.8548 0 0 1 838.97 1101.20)" font-size="25" fill="#fff" stroke="#fff" stroke-width="0.8" stroke-linejoin="round" vector-effect="non-scaling-stroke" font-weight="bold">12<tspan dx="2">.</tspan><tspan dx="2">9</tspan></text>
<text transform="matrix(0.8966 0 0 1 298.85 1139.20)" font-size="25" fill="#000" stroke="#000" stroke-width="0.8" stroke-linejoin="round" vector-effect="non-scaling-stroke" font-weight="bold">LITHUANIA</text>
<text transform="matrix(0.8777 0 0 1 825.93 1139.20)" font-size="25" fill="#000" stroke="#000" stroke-width="0.8" stroke-linejoin="round" vector-effect="non-scaling-stroke" font-weight="bold">13</text>
<text transform="matrix(0.8884 0 0 1 321.38 1177.20)" font-size="25" fill="#7D500B" stroke="#7D500B" stroke-width="0.8" stroke-linejoin="round" vector-effect="non-scaling-stroke" font-weight="bold">NORWAY</text>
<text transform="matrix(0.8771 0 0 1 841.43 1177.20)" font-size="25" fill="#7D500B" stroke="#7D500B" stroke-width="0.8" stroke-linejoin="round" vector-effect="non-scaling-stroke" font-weight="bold">13<tspan dx="2">.</tspan><tspan dx="2">4</tspan></text>
<text transform="matrix(0.8602 0 0 1 299.92 1215.20)" font-size="25" fill="#000" stroke="#000" stroke-width="0.8" stroke-linejoin="round" vector-effect="non-scaling-stroke" font-weight="bold">DENMARK</text>
<text transform="matrix(0.8780 0 0 1 848.37 1215.20)" font-size="25" fill="#000" stroke="#000" stroke-width="0.8" stroke-linejoin="round" vector-effect="non-scaling-stroke" font-weight="bold">13<tspan dx="2">.</tspan><tspan dx="2">9</tspan></text>
<text transform="matrix(0.8516 0 0 1 233.42 1253.20)" font-size="25" fill="#000" stroke="#000" stroke-width="0.8" stroke-linejoin="round" vector-effect="non-scaling-stroke" font-weight="bold">NETHERLANDS</text>
<text transform="matrix(0.8780 0 0 1 852.90 1253.20)" font-size="25" fill="#000" stroke="#000" stroke-width="0.8" stroke-linejoin="round" vector-effect="non-scaling-stroke" font-weight="bold">14<tspan dx="2">.</tspan><tspan dx="2">2</tspan></text>
<text transform="matrix(0.8411 0 0 1 302.97 1291.20)" font-size="25" fill="#000" stroke="#000" stroke-width="0.8" stroke-linejoin="round" vector-effect="non-scaling-stroke" font-weight="bold">FRANCE</text>
<text transform="matrix(0.8922 0 0 1 872.59 1291.20)" font-size="25" fill="#000" stroke="#000" stroke-width="0.8" stroke-linejoin="round" vector-effect="non-scaling-stroke" font-weight="bold">15<tspan dx="2">.</tspan><tspan dx="2">6</tspan></text>
<text transform="matrix(0.8864 0 0 1 285.97 1329.20)" font-size="25" fill="#000" stroke="#000" stroke-width="0.8" stroke-linejoin="round" vector-effect="non-scaling-stroke" font-weight="bold">SlOVAKA</text>
<text transform="matrix(0.8863 0 0 1 874.90 1329.20)" font-size="25" fill="#000" stroke="#000" stroke-width="0.8" stroke-linejoin="round" vector-effect="non-scaling-stroke" font-weight="bold">15<tspan dx="2">.</tspan><tspan dx="2">8</tspan></text>
<text transform="matrix(0.8637 0 0 1 280.44 1367.20)" font-size="25" fill="#000" stroke="#000" stroke-width="0.8" stroke-linejoin="round" vector-effect="non-scaling-stroke" font-weight="bold">CZECHIA</text>
<text transform="matrix(0.8653 0 0 1 883.96 1367.20)" font-size="25" fill="#000" stroke="#000" stroke-width="0.8" stroke-linejoin="round" vector-effect="non-scaling-stroke" font-weight="bold">16<tspan dx="2">.</tspan><tspan dx="2">4</tspan></text>
<text transform="matrix(0.8726 0 0 1 276.38 1405.20)" font-size="25" fill="#000" stroke="#000" stroke-width="0.8" stroke-linejoin="round" vector-effect="non-scaling-stroke" font-weight="bold">FINLAND</text>
<text transform="matrix(0.8980 0 0 1 887.89 1405.20)" font-size="25" fill="#000" stroke="#000" stroke-width="0.8" stroke-linejoin="round" vector-effect="non-scaling-stroke" font-weight="bold">16<tspan dx="2">.</tspan><tspan dx="2">7</tspan></text>
<text transform="matrix(0.8550 0 0 1 255.44 1443.20)" font-size="25" fill="#000" stroke="#000" stroke-width="0.8" stroke-linejoin="round" vector-effect="non-scaling-stroke" font-weight="bold">HUNGARY</text>
<text transform="matrix(0.8785 0 0 1 895.93 1443.20)" font-size="25" fill="#000" stroke="#000" stroke-width="0.8" stroke-linejoin="round" vector-effect="non-scaling-stroke" font-weight="bold">17<tspan dx="2">.</tspan><tspan dx="2">2</tspan></text>
<text transform="matrix(0.8455 0 0 1 239.00 1481.20)" font-size="25" fill="#000" stroke="#000" stroke-width="0.8" stroke-linejoin="round" vector-effect="non-scaling-stroke" font-weight="bold">GERMANY</text>
<text transform="matrix(0.8942 0 0 1 910.86 1481.20)" font-size="25" fill="#000" stroke="#000" stroke-width="0.8" stroke-linejoin="round" vector-effect="non-scaling-stroke" font-weight="bold">18<tspan dx="2">.</tspan><tspan dx="2">3</tspan></text>
<text transform="matrix(0.8678 0 0 1 178.97 1519.20)" font-size="25" fill="#7D500B" stroke="#7D500B" stroke-width="0.8" stroke-linejoin="round" vector-effect="non-scaling-stroke" font-weight="bold">SWITZERLAND</text>
<text transform="matrix(0.8687 0 0 1 912.44 1519.20)" font-size="25" fill="#7D500B" stroke="#7D500B" stroke-width="0.8" stroke-linejoin="round" vector-effect="non-scaling-stroke" font-weight="bold">18<tspan dx="2">.</tspan><tspan dx="2">4</tspan></text>
<text transform="matrix(0.8701 0 0 1 245.00 1557.20)" font-size="25" fill="#000" stroke="#000" stroke-width="0.8" stroke-linejoin="round" vector-effect="non-scaling-stroke" font-weight="bold">AUSTRIA</text>
<text transform="matrix(0.8942 0 0 1 918.86 1557.20)" font-size="25" fill="#000" stroke="#000" stroke-width="0.8" stroke-linejoin="round" vector-effect="non-scaling-stroke" font-weight="bold">18<tspan dx="2">.</tspan><tspan dx="2">9</tspan></text>
<text transform="matrix(0.8784 0 0 1 213.44 1595.20)" font-size="25" fill="#000" stroke="#000" stroke-width="0.8" stroke-linejoin="round" vector-effect="non-scaling-stroke" font-weight="bold">ESTONIA</text>
<text transform="matrix(0.8421 0 0 1 948.99 1595.20)" font-size="25" fill="#000" stroke="#000" stroke-width="0.8" stroke-linejoin="round" vector-effect="non-scaling-stroke" font-weight="bold">21<tspan dx="2">.</tspan><tspan dx="2">1</tspan></text>
<text transform="matrix(0.9258 0 0 1 214.87 1633.20)" font-size="25" fill="#000" stroke="#000" stroke-width="0.8" stroke-linejoin="round" vector-effect="non-scaling-stroke" font-weight="bold">LATVIA</text>
<text transform="matrix(0.8879 0 0 1 966.50 1633.20)" font-size="25" fill="#000" stroke="#000" stroke-width="0.8" stroke-linejoin="round" vector-effect="non-scaling-stroke" font-weight="bold">22<tspan dx="2">.</tspan><tspan dx="2">3</tspan></text>
<text transform="matrix(0.8624 0 0 1 386.94 1679.80)" font-size="19.2" fill="#000" stroke="#000" stroke-width="0.2" stroke-linejoin="round" vector-effect="non-scaling-stroke" font-style="italic">For all countries except Czechia and Iceland: data for enterprises</text>
<text transform="matrix(0.8540 0 0 1 406.97 1706.80)" font-size="19.2" fill="#000" stroke="#000" stroke-width="0.2" stroke-linejoin="round" vector-effect="non-scaling-stroke" font-style="italic">employing 10 or more employees. Czechia and Iceland: data</text>
<text transform="matrix(0.8630 0 0 1 455.00 1733.40)" font-size="19.2" fill="#000" stroke="#000" stroke-width="0.2" stroke-linejoin="round" vector-effect="non-scaling-stroke" font-style="italic">for enterprises employing 1 or more employees</text>
<text transform="matrix(0.9081 0 0 1 66.32 1731.25)" font-size="18.5" fill="#000" stroke="#000" stroke-width="0.2" stroke-linejoin="round" vector-effect="non-scaling-stroke">Iceland, Norway, Switzerland:</text>
<text transform="matrix(0.8739 0 0 1 159.94 1757.90)" font-size="18.5" fill="#000" stroke="#000" stroke-width="0.2" stroke-linejoin="round" vector-effect="non-scaling-stroke">non_EU countries</text>
<text transform="matrix(0.9067 0 0 1 965.38 1731.25)" font-size="18.5" fill="#000" stroke="#000" stroke-width="0.2" stroke-linejoin="round" vector-effect="non-scaling-stroke">Iceland, Norway, Switzerland:</text>
<text transform="matrix(0.8801 0 0 1 970.17 1757.90)" font-size="18.5" fill="#000" stroke="#000" stroke-width="0.2" stroke-linejoin="round" vector-effect="non-scaling-stroke">non_EU countries</text>
<text transform="matrix(0.8939 0 0 1 74.02 1839.90)" font-size="35.5" fill="#6D6E71" stroke="#6D6E71" stroke-width="0.7" stroke-linejoin="round" vector-effect="non-scaling-stroke" font-weight="bold">#InternationalWomensDay</text>
<text transform="matrix(0.9105 0 0 1 814.43 1840.60)" font-size="36.5" fill="#6D6E71" stroke="#6D6E71" stroke-width="0.35" stroke-linejoin="round" vector-effect="non-scaling-stroke">ec.europa.eu</text>
<text transform="matrix(1.0958 0 0 1 1010.69 1840.70)" font-size="36.5" fill="#6D6E71" font-weight="bold" font-style="italic">/</text>
<text transform="matrix(0.8587 0 0 1 1018.90 1840.40)" font-size="36" fill="#6D6E71" stroke="#6D6E71" stroke-width="0.7" stroke-linejoin="round" vector-effect="non-scaling-stroke" font-weight="bold">eurostat</text>
</svg></body></html>
